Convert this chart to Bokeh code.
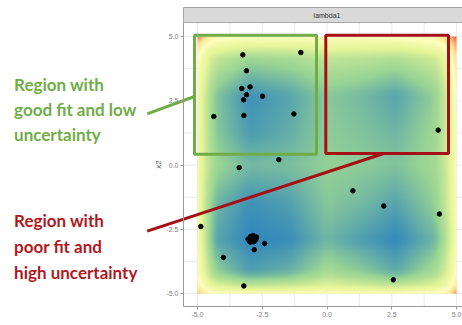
import numpy as np
from bokeh.plotting import figure
from bokeh.models import Range1d, FixedTicker, LinearAxis, PrintfTickFormatter
from bokeh.embed import file_html
from bokeh.resources import INLINE
from bokeh.core.properties import value

# ---------------- data ----------------
pt_x = [-3.25, -1.01, -3.11, -3.29, -2.97, -3.11, -3.22, -2.49, -4.37, -3.21, -1.28, -1.86,
        -3.39, -4.87, -3.05, -2.95, -2.85, -2.72, -2.95, -2.82, -3.00, -2.75, -2.90,
        -2.41, -2.81, -4.00, -3.21,
        1.00, 2.19, 4.34, 2.56, 4.29]
pt_y = [4.29, 4.38, 3.67, 2.98, 3.04, 2.74, 2.54, 2.68, 1.89, 1.93, 1.99, 0.21,
        -0.10, -2.39, -2.88, -2.78, -2.74, -2.80, -3.00, -2.98, -2.95, -2.90, -2.88,
        -3.05, -3.29, -3.59, -4.70,
        -1.00, -1.59, -1.90, -4.46, 1.36]

# surface values (0 = lowest / blue, 1 = highest / red) read on a grid
grid_x = [-5.0, -4.75, -4.3, -3.0, -1.5, 0.0, 1.3, 2.7, 4.2, 4.75, 5.0]
grid_y = [-5.0, -4.75, -4.2, -2.9, -1.5, 0.0, 1.3, 2.7, 4.2, 4.75, 5.0]
surface = [
    [0.80, 0.60, 0.50, 0.47, 0.47, 0.48, 0.47, 0.47, 0.50, 0.62, 0.90],
    [0.60, 0.42, 0.33, 0.26, 0.28, 0.33, 0.30, 0.26, 0.33, 0.42, 0.65],
    [0.50, 0.32, 0.16, 0.05, 0.09, 0.20, 0.15, 0.08, 0.20, 0.33, 0.52],
    [0.45, 0.26, 0.06, 0.00, 0.01, 0.10, 0.05, 0.00, 0.10, 0.27, 0.47],
    [0.44, 0.26, 0.10, 0.02, 0.05, 0.14, 0.11, 0.06, 0.16, 0.30, 0.47],
    [0.43, 0.29, 0.18, 0.11, 0.12, 0.16, 0.15, 0.13, 0.19, 0.31, 0.47],
    [0.43, 0.28, 0.14, 0.04, 0.08, 0.15, 0.13, 0.10, 0.18, 0.31, 0.48],
    [0.43, 0.28, 0.13, 0.02, 0.06, 0.14, 0.11, 0.06, 0.16, 0.31, 0.52],
    [0.50, 0.36, 0.26, 0.18, 0.20, 0.25, 0.24, 0.22, 0.28, 0.40, 0.68],
    [0.68, 0.50, 0.42, 0.37, 0.37, 0.39, 0.39, 0.39, 0.45, 0.56, 0.85],
    [0.92, 0.70, 0.55, 0.50, 0.50, 0.50, 0.50, 0.52, 0.60, 0.76, 0.97],
]
palette = ["#3288bd", "#99d594", "#e6f598", "#ffffbf", "#fee08b", "#fc8d59", "#d53e4f"]

tick_vals = [-5.0, -2.5, 0.0, 2.5, 5.0]
minor_vals = [-3.75, -1.25, 1.25, 3.75]

green_box = dict(left=-5.115, right=-0.406, bottom=0.424, top=5.053)
red_box = dict(left=-0.047, right=4.69, bottom=0.451, top=5.053)
green_lines = ["Region with", "good fit and low", "uncertainty"]
red_lines = ["Region with", "poor fit and", "high uncertainty"]

# ---------------- surface raster ----------------
N = 260
gx = np.linspace(-5, 5, N)
gy = np.linspace(-5, 5, N)
S = np.array(surface)
tmp = np.array([np.interp(gx, grid_x, row) for row in S])
Z = np.array([np.interp(gy, grid_y, tmp[:, i]) for i in range(N)]).T

def blur(a, s):
    r = int(3 * s)
    k = np.exp(-0.5 * (np.arange(-r, r + 1) / s) ** 2)
    k /= k.sum()
    ap = np.pad(a, ((r, r), (0, 0)), mode="edge")
    a = np.array([np.convolve(ap[:, j], k, mode="valid") for j in range(a.shape[1])]).T
    ap = np.pad(a, ((0, 0), (r, r)), mode="edge")
    a = np.array([np.convolve(ap[i, :], k, mode="valid") for i in range(a.shape[0])])
    return a

Z = np.clip(blur(Z, 3.0), 0, 1)
pal = np.array([[int(c[1:3], 16), int(c[3:5], 16), int(c[5:7], 16)] for c in palette], float)
stops = np.linspace(0, 1, len(palette))
rgba = np.zeros((N, N, 4), dtype=np.uint8)
for ch in range(3):
    rgba[:, :, ch] = np.interp(Z, stops, pal[:, ch]).astype(np.uint8)
rgba[:, :, 3] = 255
img = rgba.view(dtype=np.uint32).reshape((N, N))

# ---------------- figure ----------------
PX0, PX1 = -5.54, 5.23          # panel x extent
PY0, STRIP_BOTTOM, PY1 = -5.5, 5.545, 6.13   # panel bottom, strip, strip top
XL, YB, YT = -12.604, -6.239, 6.402          # whole canvas

p = figure(width=462, height=325, x_range=Range1d(XL, PX1), y_range=Range1d(YB, YT),
           output_backend="svg", toolbar_location=None,
           x_axis_location=None, y_axis_location=None,
           min_border_left=0, min_border_right=0, min_border_top=0, min_border_bottom=0)
p.outline_line_color = None
p.background_fill_color = "white"
p.xgrid.visible = False
p.ygrid.visible = False

xa = LinearAxis(fixed_location=PY0, bounds=(PX0, PX1))
ya = LinearAxis(fixed_location=PX0, bounds=(PY0, STRIP_BOTTOM))
for ax in (xa, ya):
    ax.ticker = FixedTicker(ticks=tick_vals, minor_ticks=[])
    ax.formatter = PrintfTickFormatter(format="%.1f")
    ax.major_label_text_font = "Liberation Sans"
    ax.major_label_text_font_size = "7px"
    ax.major_label_text_color = "#808080"
    ax.axis_line_color = "#9a9a9a"
    ax.major_tick_line_color = "#9a9a9a"
    ax.major_tick_out = 3
    ax.major_tick_in = 0
    ax.minor_tick_line_color = None
    ax.major_label_standoff = 2
ya.axis_label = "x2"
ya.axis_label_text_font = "Liberation Sans"
ya.axis_label_text_font_size = "8px"
ya.axis_label_text_font_style = "normal"
ya.axis_label_text_color = "#555555"
ya.axis_label_standoff = 0
p.add_layout(xa, "below")
p.add_layout(ya, "left")

# grid lines inside panel
grid_all = sorted(tick_vals + minor_vals)
p.segment(x0=grid_all, y0=[PY0] * len(grid_all), x1=grid_all, y1=[STRIP_BOTTOM] * len(grid_all),
          line_color="#ebebeb", line_width=1)
p.segment(x0=[PX0] * len(grid_all), y0=grid_all, x1=[PX1] * len(grid_all), y1=grid_all,
          line_color="#ebebeb", line_width=1)

p.image_rgba(image=[img], x=-5, y=-5, dw=10, dh=10)

p.scatter(pt_x, pt_y, size=4.5, color="black")

# facet strip
p.quad(left=[PX0], right=[PX1], bottom=[STRIP_BOTTOM], top=[PY1],
       fill_color="#d9d9d9", line_color="#a6a6a6", line_width=1)
p.text(x=[0], y=[(STRIP_BOTTOM + PY1) / 2], text=["lambda1"], text_font=value("Liberation Sans"),
       text_font_size="7px", text_align="center", text_baseline="middle", text_color="#333333")

GREEN = "#70ad47"
RED_LINE = "#a50f15"
RED_TEXT = "#b0181e"

p.quad(**{k: [v] for k, v in green_box.items()}, fill_color=None, line_color=GREEN, line_width=3)
p.quad(**{k: [v] for k, v in red_box.items()}, fill_color=None, line_color=RED_LINE, line_width=3)

p.segment(x0=[-6.94], y0=[1.995], x1=[green_box["left"]], y1=[2.668], line_color=GREEN, line_width=3)
p.segment(x0=[-6.94], y0=[-2.571], x1=[2.19], y1=[red_box["bottom"]], line_color=RED_LINE, line_width=3)

TX = -12.08
p.text(x=[TX] * 3, y=[3.15, 2.15, 1.18], text=green_lines, text_font=value("Lato"),
       text_font_style="bold", text_font_size="17px", text_color=GREEN, text_baseline="alphabetic")
p.text(x=[TX] * 3, y=[-2.17, -3.17, -4.16], text=red_lines, text_font=value("Lato"),
       text_font_style="bold", text_font_size="17px", text_color=RED_TEXT, text_baseline="alphabetic")

open("out.html", "w").write(file_html(p, INLINE))
